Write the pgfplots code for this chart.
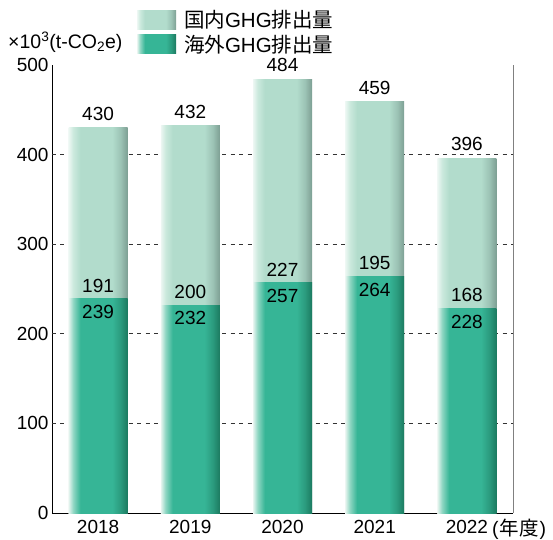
\documentclass[border=0pt]{standalone}
\usepackage{fontspec}
\setmainfont{Liberation Sans}
\newfontfamily\jp{Noto Sans CJK JP}
\usepackage{pgfplots}
\pgfplotsset{compat=1.18}

\definecolor{dkL}{HTML}{E8F5F0}
\definecolor{dkM}{HTML}{8ED6C2}
\definecolor{dk}{HTML}{36B596}
\definecolor{dkRa}{HTML}{2B9B7E}
\definecolor{dkR}{HTML}{1C7A60}
\definecolor{ltL}{HTML}{EDF7F3}
\definecolor{ltM}{HTML}{CBE9DD}
\definecolor{lt}{HTML}{B2DCCC}
\definecolor{ltRa}{HTML}{9CC3B5}
\definecolor{ltR}{HTML}{7D9F93}

\pgfdeclarehorizontalshading{darkbar}{100bp}{color(0bp)=(dkL); color(25bp)=(dkL); color(29bp)=(dkM); color(35bp)=(dk); color(62bp)=(dk); color(69bp)=(dkRa); color(75bp)=(dkR); color(100bp)=(dkR)}
\pgfdeclarehorizontalshading{lightbar}{100bp}{color(0bp)=(ltL); color(25bp)=(ltL); color(29bp)=(ltM); color(35bp)=(lt); color(62bp)=(lt); color(69bp)=(ltRa); color(75bp)=(ltR); color(100bp)=(ltR)}

\newcommand{\fs}{\fontsize{19}{19}\selectfont}

\pgfplotsset{
  lightb/.style={ybar, bar width=59pt, bar shift=0pt, draw=none, shading=lightbar,
     nodes near coords style={anchor=south, font=\fs, text=black, yshift=4pt}},
  darkb/.style={ybar, bar width=59pt, bar shift=0pt, draw=none, shading=darkbar,
     nodes near coords style={anchor=north, font=\fs, text=black, yshift=-3pt}},
}

\begin{document}
\begin{tikzpicture}
\path[use as bounding box] (-52pt,-26pt) rectangle (501pt,513pt);
\begin{axis}[
  at={(0,0)}, anchor=south west,
  scale only axis, width=461pt, height=448pt,
  xmin=-0.5, xmax=4.5, ymin=0, ymax=500,
  axis lines*=left,
  axis line style={-, black, line width=0.8pt},
  xtick={0,1,2,3,4},
  xticklabels={2018,2019,2020,2021,2022},
  xlabel={(\kern1pt{\jp 年度}\kern1pt)},
  xlabel style={at={(rel axis cs:0.9544,0)}, anchor=base west, inner sep=0pt, yshift=-22pt, font=\fontsize{19.5}{19.5}\selectfont},
  ytick={0,100,200,300,400,500},
  xtick style={draw=none}, ytick style={draw=none},
  extra y ticks={100,200,300,400},
  extra y tick labels={},
  extra y tick style={ymajorgrids=true, major grid style={black!80, dash pattern=on 4pt off 4.5pt, line width=0.7pt}},
  tick label style={font=\fs},
  xticklabel style={inner xsep=1pt, yshift=-4pt},
  /pgf/number format/assume math mode=true,
  clip=false,
  legend style={at={(rel axis cs:0.184,1.127)}, anchor=north west, draw=none, fill=none,
     inner sep=0pt, row sep=2pt, font=\fontsize{20.5}{20.5}\selectfont,
     /tikz/every odd column/.append style={column sep=6pt}},
  legend cell align=left,
  legend image code/.code={\path[#1, draw=none] (0pt,-9.5pt) rectangle (39pt,9.5pt);},
  nodes near coords={\pgfplotspointmeta},
  point meta=explicit symbolic,
  extra description/.code={
    \draw[gray, line width=1pt] (rel axis cs:1,0) -- (rel axis cs:1,1);
    \node[anchor=west, inner sep=0pt, font=\fontsize{19.5}{19.5}\selectfont] at (rel axis cs:-0.0954,1.051) {×10\textsuperscript{3}(t-CO\textsubscript{2}e)};
  },
]
% domestic + overseas totals (light bars)
\addplot[lightb] coordinates {(0,430) [430]};
\addlegendentry{{\jp 国内}GHG{\jp 排出量}}
\addplot[lightb, forget plot] coordinates {(1,432) [432]};
\addplot[lightb, forget plot] coordinates {(2,484) [484]};
\addplot[lightb, forget plot] coordinates {(3,459) [459]};
\addplot[lightb, forget plot] coordinates {(4,396) [396]};
% overseas (dark bars)
\addplot[darkb] coordinates {(0,239) [239]};
\addlegendentry{{\jp 海外}GHG{\jp 排出量}}
\addplot[darkb, forget plot] coordinates {(1,232) [232]};
\addplot[darkb, forget plot] coordinates {(2,257) [257]};
\addplot[darkb, forget plot] coordinates {(3,264) [264]};
\addplot[darkb, forget plot] coordinates {(4,228) [228]};
% domestic value labels
\addplot[draw=none, mark=none, forget plot,
   nodes near coords style={anchor=south, font=\fs, text=black, yshift=3pt}]
  coordinates {(0,239) [191] (1,232) [200] (2,257) [227] (3,264) [195] (4,228) [168]};
\end{axis}
\end{tikzpicture}
\end{document}
